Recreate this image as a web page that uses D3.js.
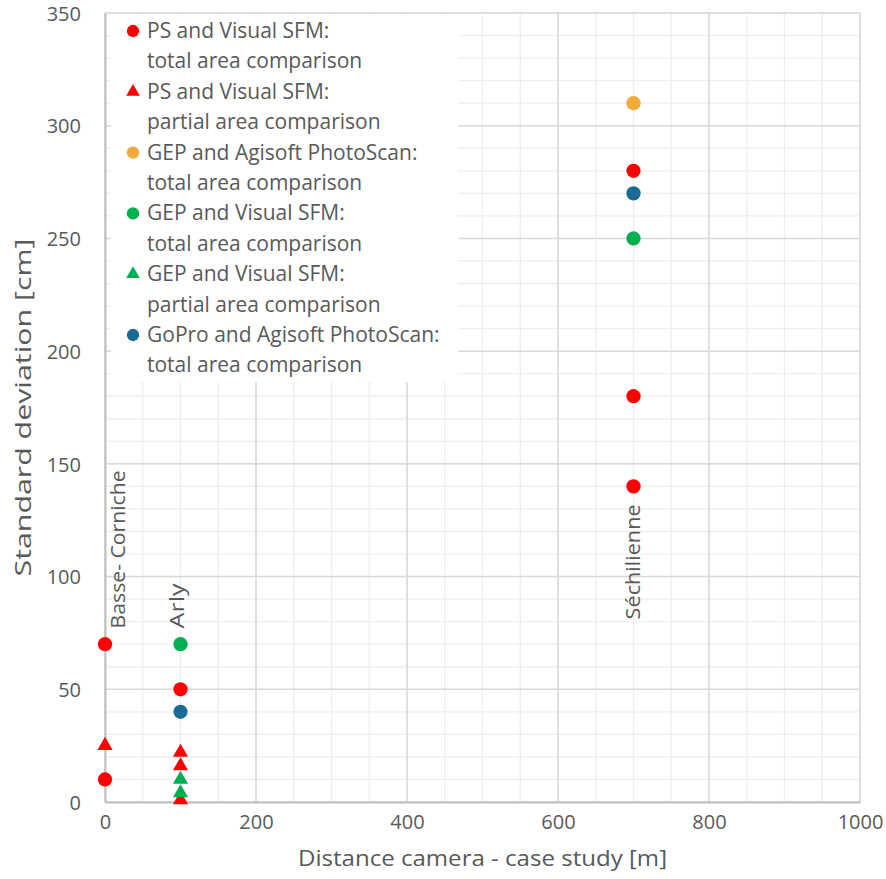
<!DOCTYPE html>
<html>
<head>
<meta charset="utf-8">
<script src="https://cdn.jsdelivr.net/npm/d3@7"></script>
<style>
  html, body { margin: 0; padding: 0; background: #fff; }
  text { font-family: "Open Sans", Lato, sans-serif; fill: #595959; }
</style>
</head>
<body>
<svg id="chart" width="886" height="879"></svg>
<script>
// ---- data ----
const seriesNames = [
  ["PS and Visual SFM:", "total area comparison"],
  ["PS and Visual SFM:", "partial area comparison"],
  ["GEP and Agisoft PhotoScan:", "total area comparison"],
  ["GEP and Visual SFM:", "total area comparison"],
  ["GEP and Visual SFM:", "partial area comparison"],
  ["GoPro and Agisoft PhotoScan:", "total area comparison"]
];
const seriesShapes = ["circle", "triangle", "circle", "circle", "triangle", "circle"];
const seriesColors = ["#ff0000", "#ff0000", "#f2aa3a", "#00b050", "#00b050", "#1a6a96"];

const psVsfmTotal    = [[0, 70], [0, 10], [100, 50], [700, 280], [700, 180], [700, 140]];
const psVsfmPartial  = [[0, 25], [100, 22], [100, 16], [100, 1]];
const gepPhotoTotal  = [[700, 310]];
const gepVsfmTotal   = [[100, 70], [700, 250]];
const gepVsfmPartial = [[100, 10], [100, 4]];
const goproPhotoTotal = [[100, 40], [700, 270]];
const seriesData = [psVsfmTotal, psVsfmPartial, gepPhotoTotal, gepVsfmTotal, gepVsfmPartial, goproPhotoTotal];

const siteLabels = ["Basse- Corniche", "Arly", "Séchilienne"];
const siteLabelX = [26, 104, 708];
const siteLabelY = [77, 77, 81];
const siteLabelLen = [158, 45, 115];

const xTicks = [0, 200, 400, 600, 800, 1000];
const yTicks = [0, 50, 100, 150, 200, 250, 300, 350];
const xTitle = "Distance camera - case study [m]";
const yTitle = "Standard deviation [cm]";

// ---- layout ----
const svg = d3.select("#chart");
const L = 105, R = 860, T = 13, B = 802;
const x = d3.scaleLinear().domain([0, 1000]).range([L, R]);
const y = d3.scaleLinear().domain([0, 350]).range([B, T]);

// minor grid
const g = svg.append("g");
g.selectAll(".mx").data(d3.range(0, 1001, 50)).join("line")
  .attr("x1", d => x(d)).attr("x2", d => x(d)).attr("y1", T).attr("y2", B)
  .attr("stroke", "#eeeeee").attr("stroke-width", 1.3);
g.selectAll(".my").data(d3.range(0, 351, 10)).join("line")
  .attr("y1", d => y(d)).attr("y2", d => y(d)).attr("x1", L).attr("x2", R)
  .attr("stroke", "#eeeeee").attr("stroke-width", 1.3);
// major grid
g.selectAll(".Mx").data(xTicks).join("line")
  .attr("x1", d => x(d)).attr("x2", d => x(d)).attr("y1", T).attr("y2", B)
  .attr("stroke", "#d9d9d9").attr("stroke-width", 1.5);
g.selectAll(".My").data(yTicks).join("line")
  .attr("y1", d => y(d)).attr("y2", d => y(d)).attr("x1", L).attr("x2", R)
  .attr("stroke", "#d9d9d9").attr("stroke-width", 1.5);

// axes
const xAxis = svg.append("g").attr("transform", `translate(0,${B})`)
  .call(d3.axisBottom(x).tickValues(xTicks).tickFormat(d3.format("d")).tickSize(0).tickPadding(13));
const yAxis = svg.append("g").attr("transform", `translate(${L},0)`)
  .call(d3.axisLeft(y).tickValues(yTicks).tickFormat(d3.format("d")).tickSize(0).tickPadding(24));
[xAxis, yAxis].forEach(a => {
  a.select(".domain").attr("stroke", "#bfbfbf").attr("stroke-width", 2);
  a.selectAll("text").style("font-family", "'Open Sans', sans-serif").style("font-size", "20px").attr("fill", "#595959");
});
yAxis.selectAll("text").attr("dy", "0.36em");

// axis titles
svg.append("text").attr("x", (L + R) / 2).attr("y", 866).attr("text-anchor", "middle")
  .style("font-size", "22px").attr("textLength", 369).attr("lengthAdjust", "spacingAndGlyphs").text(xTitle);
svg.append("text").attr("transform", `translate(31,${(T + B) / 2}) rotate(-90)`)
  .attr("text-anchor", "middle").style("font-size", "21px")
  .attr("textLength", 338).attr("lengthAdjust", "spacingAndGlyphs").text(yTitle);

// legend
const lg = svg.append("g");
lg.append("rect").attr("x", 111).attr("y", 14).attr("width", 347).attr("height", 368).attr("fill", "#fff");
const sym = { circle: d3.symbolCircle, triangle: d3.symbolTriangle };
seriesNames.forEach((nm, i) => {
  const by = 38 + i * 60.8;
  const e = lg.append("g");
  e.append("path").attr("transform", `translate(133,${by - 7})`)
    .attr("d", d3.symbol().type(sym[seriesShapes[i]]).size(seriesShapes[i] === "circle" ? 120 : 80)())
    .attr("fill", seriesColors[i]);
  e.append("text").attr("x", 147).attr("y", by).style("font-size", "21px").attr("fill", "#404040").text(nm[0]);
  e.append("text").attr("x", 147).attr("y", by + 30.4).style("font-size", "21px").attr("fill", "#404040").text(nm[1]);
});

// site labels
siteLabels.forEach((s, i) => {
  svg.append("text").attr("transform", `translate(${x(siteLabelX[i])},${y(siteLabelY[i])}) rotate(-90)`)
    .style("font-size", "20px").attr("fill", "#404040")
    .attr("textLength", siteLabelLen[i]).attr("lengthAdjust", "spacingAndGlyphs").text(s);
});

// data markers
seriesData.forEach((data, i) => {
  svg.append("g").selectAll("path").data(data).join("path")
    .attr("transform", d => `translate(${x(d[0])},${y(d[1])})`)
    .attr("d", d3.symbol().type(sym[seriesShapes[i]]).size(seriesShapes[i] === "circle" ? 160 : 100)())
    .attr("fill", seriesColors[i]);
});
</script>
</body>
</html>
